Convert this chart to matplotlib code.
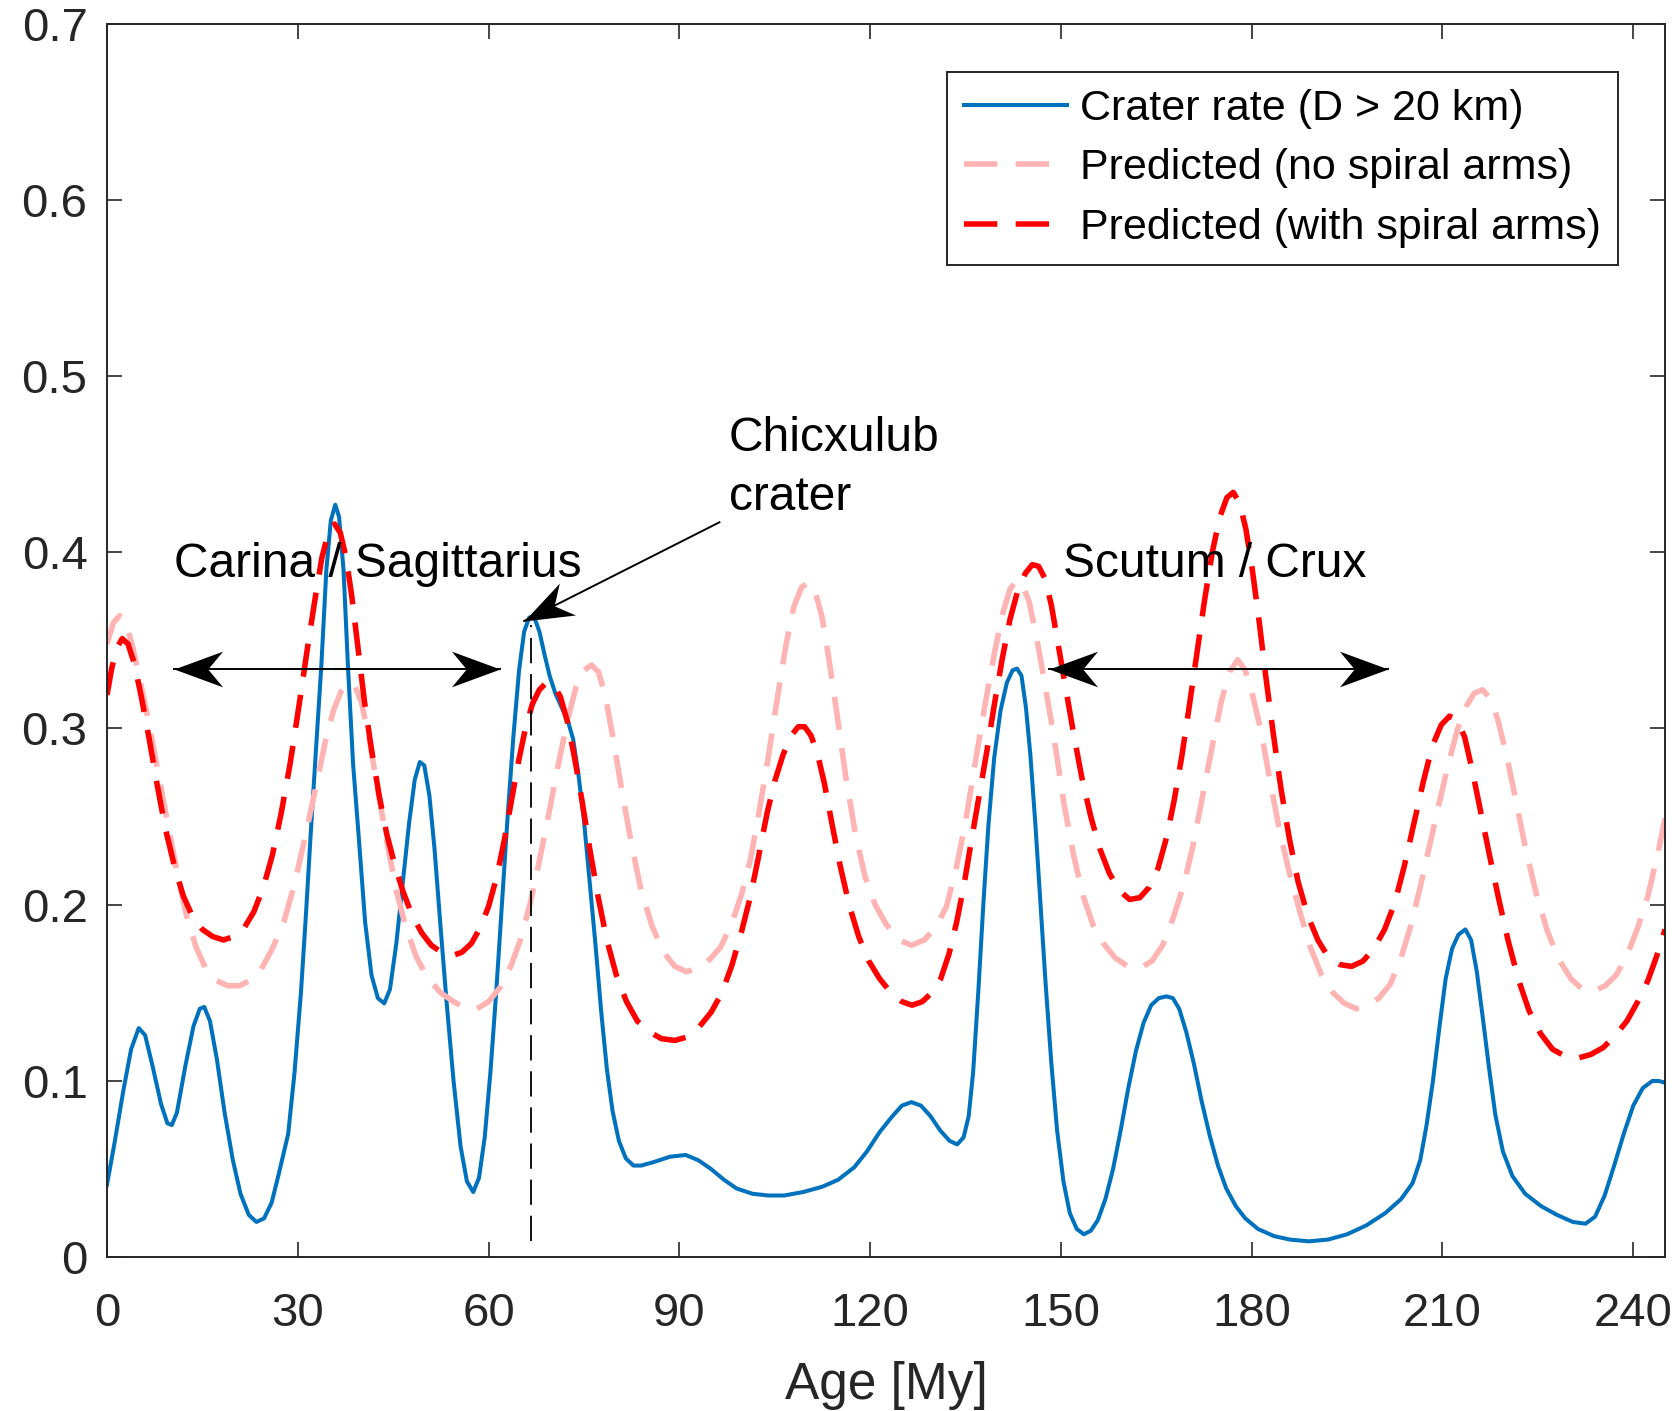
import numpy as np
import matplotlib.pyplot as plt
from matplotlib.path import Path
from matplotlib.markers import MarkerStyle
from matplotlib.transforms import Affine2D

# crater rate (D > 20 km)
crater_age = [0, 1.2, 2.6, 3.8, 5.0, 6.0, 7.2, 8.5, 9.5, 10.2, 11.0, 12.3, 13.6, 14.6, 15.3,
              16.2, 17.3, 18.5, 19.8, 21.0, 22.3, 23.5, 24.7, 25.9, 27.0, 28.5, 29.5, 30.5,
              31.3, 32.0, 32.9, 33.7, 34.5, 35.2, 35.9, 36.5, 37.2, 37.9, 38.7, 39.6, 40.6,
              41.6, 42.6, 43.6, 44.5, 45.5, 46.5, 47.5, 48.4, 49.2, 49.9, 50.7, 51.5, 52.4,
              53.4, 54.5, 55.6, 56.6, 57.6, 58.5, 59.4, 60.3, 61.2, 62.1, 63.0, 63.9, 64.8,
              65.6, 66.4, 67.2, 68.0, 68.8, 69.6, 70.5, 71.5, 72.5, 73.3, 74.1, 75.0, 75.9,
              76.8, 77.7, 78.6, 79.5, 80.5, 81.6, 82.8, 84.0, 86.0, 88.5, 91.0, 93.0, 95.0,
              97.0, 99.0, 101.5, 104.0, 106.5, 109.5, 112.5, 115.0, 117.5, 119.5, 121.5,
              123.5, 125.0, 126.5, 128.0, 129.5, 131.0, 132.5, 133.7, 134.7, 135.5, 136.2,
              137.0, 137.8, 138.6, 139.5, 140.5, 141.5, 142.4, 143.1, 143.8, 144.5, 145.2,
              146.0, 146.8, 147.6, 148.5, 149.4, 150.4, 151.4, 152.5, 153.6, 154.7, 155.8,
              157.0, 158.2, 159.4, 160.6, 161.8, 163.0, 164.2, 165.4, 166.6, 167.6, 168.6,
              169.7, 170.9, 172.1, 173.4, 174.7, 176.0, 177.5, 179.0, 181.0, 183.5, 186.0,
              189.0, 192.0, 195.0, 198.0, 201.0, 203.5, 205.3, 206.5, 207.5, 208.5, 209.5,
              210.5, 211.5, 212.5, 213.6, 214.5, 215.4, 216.3, 217.3, 218.3, 219.5, 221.0,
              223.0, 225.5, 228.0, 230.5, 232.5, 234.0, 235.5, 237.0, 238.5, 240.0, 241.5,
              243.0, 244.0, 245.0]
crater_rate = [0.041, 0.065, 0.095, 0.118, 0.130, 0.126, 0.108, 0.087, 0.076, 0.075, 0.082,
               0.108, 0.131, 0.141, 0.142, 0.134, 0.112, 0.082, 0.055, 0.036, 0.024, 0.020,
               0.022, 0.031, 0.047, 0.070, 0.105, 0.150, 0.195, 0.238, 0.290, 0.335, 0.390,
               0.418, 0.427, 0.420, 0.390, 0.335, 0.280, 0.238, 0.190, 0.160, 0.147, 0.144,
               0.152, 0.178, 0.212, 0.246, 0.271, 0.281, 0.279, 0.262, 0.232, 0.190, 0.145,
               0.100, 0.063, 0.043, 0.037, 0.045, 0.068, 0.105, 0.150, 0.200, 0.250, 0.295,
               0.333, 0.355, 0.363, 0.363, 0.355, 0.342, 0.330, 0.320, 0.312, 0.304, 0.294,
               0.275, 0.248, 0.213, 0.178, 0.140, 0.107, 0.083, 0.066, 0.056, 0.052, 0.052,
               0.054, 0.057, 0.058, 0.055, 0.050, 0.044, 0.039, 0.036, 0.035, 0.035, 0.037,
               0.040, 0.044, 0.051, 0.060, 0.071, 0.080, 0.086, 0.088, 0.086, 0.080, 0.072,
               0.066, 0.064, 0.068, 0.080, 0.105, 0.150, 0.200, 0.245, 0.283, 0.310, 0.326,
               0.333, 0.334, 0.330, 0.312, 0.285, 0.245, 0.200, 0.155, 0.110, 0.072, 0.043,
               0.025, 0.016, 0.013, 0.015, 0.021, 0.033, 0.050, 0.072, 0.096, 0.117, 0.133,
               0.143, 0.147, 0.148, 0.147, 0.141, 0.128, 0.110, 0.089, 0.069, 0.052, 0.039,
               0.029, 0.022, 0.016, 0.012, 0.010, 0.009, 0.010, 0.013, 0.018, 0.025, 0.033,
               0.042, 0.055, 0.075, 0.100, 0.130, 0.158, 0.175, 0.183, 0.186, 0.180, 0.162,
               0.137, 0.108, 0.081, 0.060, 0.046, 0.036, 0.029, 0.024, 0.020, 0.019, 0.023,
               0.035, 0.052, 0.070, 0.086, 0.096, 0.100, 0.100, 0.099]

# predicted rate, no spiral arms
nospiral_age = [0, 1.0, 2.0, 3.0, 4.0, 5.2, 6.5, 8.0, 9.5, 11.0, 12.5, 14.0, 15.5, 17.2, 19.0,
                20.8, 22.5, 24.2, 26.0, 27.8, 29.5, 31.2, 32.8, 34.3, 35.6, 36.8, 38.0, 39.0,
                40.0, 41.2, 42.5, 44.0, 45.5, 47.0, 48.7, 50.5, 52.5, 54.5, 56.5, 58.2, 60.0,
                61.8, 63.5, 65.0, 66.5, 68.0, 69.5, 71.0, 72.5, 73.8, 75.0, 76.2, 77.3, 78.4,
                79.6, 81.0, 82.5, 84.0, 85.7, 87.5, 89.3, 91.1, 93.0, 94.8, 96.5, 98.3, 99.8,
                101.2, 102.6, 104.0, 105.4, 106.8, 108.0, 109.2, 110.3, 111.4, 112.4, 113.5,
                114.8, 116.2, 117.7, 119.2, 120.8, 122.5, 124.5, 126.5, 128.5, 130.3, 132.0,
                133.5, 135.0, 136.5, 138.0, 139.5, 140.9, 142.0, 143.0, 144.0, 145.0, 146.2,
                147.5, 149.0, 150.5, 152.0, 153.5, 155.0, 156.7, 158.5, 160.5, 162.4, 164.3,
                166.0, 167.7, 169.3, 170.8, 172.3, 173.8, 175.2, 176.5, 177.8, 179.0, 180.2,
                181.5, 183.0, 184.5, 186.0, 187.5, 189.2, 191.0, 192.8, 194.6, 196.4, 198.2,
                200.0, 201.8, 203.5, 205.0, 206.5, 208.0, 209.5, 211.0, 212.4, 213.8, 215.0,
                216.3, 217.5, 218.7, 220.0, 221.5, 223.0, 224.7, 226.5, 228.3, 230.2, 232.0,
                233.8, 235.6, 237.3, 239.0, 240.7, 242.3, 243.8, 245.0]
nospiral_rate = [0.348, 0.360, 0.364, 0.360, 0.347, 0.327, 0.305, 0.276, 0.247, 0.219, 0.194,
                 0.176, 0.164, 0.157, 0.154, 0.154, 0.157, 0.163, 0.175, 0.190, 0.212, 0.239,
                 0.266, 0.292, 0.310, 0.321, 0.326, 0.324, 0.315, 0.295, 0.267, 0.236, 0.208,
                 0.187, 0.170, 0.158, 0.150, 0.145, 0.141, 0.141, 0.145, 0.153, 0.165, 0.180,
                 0.200, 0.225, 0.252, 0.280, 0.306, 0.324, 0.333, 0.336, 0.332, 0.318, 0.294,
                 0.264, 0.234, 0.208, 0.188, 0.173, 0.165, 0.162, 0.164, 0.169, 0.176, 0.190,
                 0.206, 0.226, 0.254, 0.284, 0.317, 0.348, 0.369, 0.380, 0.383, 0.377, 0.364,
                 0.340, 0.308, 0.272, 0.240, 0.216, 0.200, 0.189, 0.180, 0.177, 0.180, 0.187,
                 0.199, 0.220, 0.247, 0.280, 0.312, 0.342, 0.366, 0.379, 0.384, 0.381, 0.372,
                 0.351, 0.325, 0.293, 0.257, 0.228, 0.205, 0.189, 0.178, 0.170, 0.165, 0.164,
                 0.168, 0.177, 0.193, 0.211, 0.234, 0.262, 0.290, 0.315, 0.332, 0.339, 0.333,
                 0.318, 0.298, 0.268, 0.240, 0.217, 0.197, 0.176, 0.160, 0.150, 0.144, 0.141,
                 0.143, 0.147, 0.155, 0.170, 0.188, 0.210, 0.234, 0.258, 0.281, 0.300, 0.313,
                 0.320, 0.322, 0.317, 0.305, 0.286, 0.260, 0.233, 0.207, 0.185, 0.169, 0.158,
                 0.152, 0.151, 0.154, 0.160, 0.171, 0.187, 0.205, 0.228, 0.249]

# predicted rate, with spiral arms
spiral_age = [0, 0.8, 1.6, 2.4, 3.3, 4.3, 5.4, 6.6, 7.9, 9.2, 10.6, 12.0, 13.5, 15.0, 16.6,
              18.3, 20.0, 21.6, 23.1, 24.6, 26.0, 27.4, 28.8, 30.2, 31.5, 32.7, 33.8, 34.8,
              35.8, 36.7, 37.6, 38.5, 39.5, 40.5, 41.6, 42.8, 44.0, 45.3, 46.6, 48.0, 49.5,
              51.0, 52.6, 54.2, 55.8, 57.3, 58.7, 60.0, 61.3, 62.5, 63.6, 64.7, 65.8, 66.9,
              68.0, 69.1, 70.2, 71.3, 72.4, 73.5, 74.7, 75.9, 77.2, 78.6, 80.1, 81.7, 83.4,
              85.2, 87.2, 89.3, 91.3, 93.2, 95.0, 96.7, 98.3, 99.8, 101.2, 102.5, 103.8, 105.0,
              106.3, 107.6, 108.7, 109.7, 110.7, 111.7, 112.8, 114.0, 115.3, 116.7, 118.2,
              119.8, 121.5, 123.3, 125.0, 126.6, 128.2, 129.7, 131.1, 132.4, 133.6, 134.8,
              136.0, 137.2, 138.4, 139.6, 140.8, 142.0, 143.2, 144.4, 145.5, 146.5, 147.5,
              148.5, 149.6, 150.8, 152.0, 153.3, 154.7, 156.1, 157.6, 159.2, 160.8, 162.4,
              163.9, 165.3, 166.6, 167.8, 169.0, 170.2, 171.4, 172.6, 173.8, 175.0, 176.1,
              177.1, 178.1, 179.1, 180.1, 181.1, 182.2, 183.4, 184.6, 185.9, 187.3, 188.8,
              190.4, 192.1, 193.9, 195.7, 197.5, 199.2, 200.9, 202.5, 204.0, 205.5, 207.0,
              208.4, 209.8, 211.1, 212.3, 213.5, 214.7, 216.0, 217.4, 218.8, 220.3, 221.9,
              223.6, 225.4, 227.3, 229.3, 231.3, 233.3, 235.3, 237.2, 239.0, 240.7, 242.3,
              243.7, 245.0]
spiral_rate = [0.319, 0.335, 0.346, 0.351, 0.348, 0.337, 0.318, 0.295, 0.268, 0.243, 0.222,
               0.205, 0.193, 0.186, 0.182, 0.180, 0.182, 0.187, 0.196, 0.210, 0.228, 0.252,
               0.280, 0.313, 0.345, 0.373, 0.397, 0.411, 0.416, 0.411, 0.397, 0.375, 0.345,
               0.315, 0.288, 0.262, 0.240, 0.222, 0.207, 0.194, 0.184, 0.177, 0.173, 0.171,
               0.173, 0.178, 0.187, 0.199, 0.216, 0.237, 0.259, 0.281, 0.300, 0.314, 0.322,
               0.326, 0.325, 0.318, 0.304, 0.284, 0.259, 0.232, 0.205, 0.180, 0.160, 0.145,
               0.134, 0.128, 0.124, 0.123, 0.125, 0.131, 0.139, 0.150, 0.166, 0.185, 0.205,
               0.228, 0.252, 0.270, 0.285, 0.296, 0.301, 0.301, 0.296, 0.286, 0.269, 0.246,
               0.222, 0.200, 0.182, 0.168, 0.158, 0.150, 0.145, 0.143, 0.145, 0.150, 0.158,
               0.172, 0.190, 0.212, 0.238, 0.263, 0.288, 0.315, 0.340, 0.362, 0.378, 0.388,
               0.393, 0.392, 0.385, 0.370, 0.347, 0.322, 0.297, 0.272, 0.250, 0.232, 0.218,
               0.208, 0.203, 0.204, 0.210, 0.221, 0.238, 0.259, 0.284, 0.313, 0.343, 0.373,
               0.400, 0.420, 0.431, 0.434, 0.428, 0.413, 0.390, 0.363, 0.330, 0.297, 0.266,
               0.238, 0.213, 0.194, 0.180, 0.170, 0.166, 0.165, 0.168, 0.175, 0.186, 0.201,
               0.222, 0.246, 0.270, 0.290, 0.302, 0.307, 0.305, 0.295, 0.276, 0.253, 0.228,
               0.204, 0.180, 0.158, 0.140, 0.127, 0.118, 0.114, 0.113, 0.115, 0.119, 0.126,
               0.134, 0.145, 0.157, 0.171, 0.186]

chicxulub_age = 66.7
x_ticks = [0, 30, 60, 90, 120, 150, 180, 210, 240]
y_ticks = [0, 0.1, 0.2, 0.3, 0.4, 0.5, 0.6, 0.7]
y_ticklabels = ['0', '0.1', '0.2', '0.3', '0.4', '0.5', '0.6', '0.7']

plt.rcParams['font.family'] = ['Liberation Sans', 'DejaVu Sans']
axis_col = '#262626'

# swept-back arrow head, tip at the origin pointing along +x
HEAD = Path([(0, 0), (-49, 18), (-34, 0), (-49, -18), (0, 0)],
            [Path.MOVETO, Path.LINETO, Path.LINETO, Path.LINETO, Path.CLOSEPOLY])


def draw_arrow(ax, tail, tip, both=False):
    ax.plot([tail[0], tip[0]], [tail[1], tip[1]], color='k', lw=1.4)
    ends = [(tail, tip), (tip, tail)] if both else [(tail, tip)]
    for a, b in ends:
        pa, pb = ax.transData.transform([a, b])
        ang = np.degrees(np.arctan2(pb[1] - pa[1], pb[0] - pa[0]))
        m = MarkerStyle(HEAD, transform=Affine2D().rotate_deg(ang))
        ax.plot(b[0], b[1], marker=m, ms=70, color='k', mew=0, clip_on=False)


fig = plt.figure(figsize=(16.79, 14.11), dpi=100)
ax = fig.add_axes([0.0637, 0.109, 0.928, 0.8743])
ax.set_xlim(0, 245)
ax.set_ylim(0, 0.7)

ax.plot(crater_age, crater_rate, color='#0072BD', lw=2.9, solid_joinstyle='round',
        label='Crater rate (D > 20 km)')
ax.plot(nospiral_age, nospiral_rate, color='#FFB3B3', lw=4.0, dashes=(6, 3.3),
        label='Predicted (no spiral arms)')
ax.plot(spiral_age, spiral_rate, color='#FF0000', lw=4.0, dashes=(6, 3.3),
        label='Predicted (with spiral arms)')

# Chicxulub impact age
ax.plot([chicxulub_age, chicxulub_age], [0.009, 0.359], color='k', lw=1.3, dashes=(14, 6))

draw_arrow(ax, (10.6, 0.334), (61.8, 0.334), both=True)
draw_arrow(ax, (148.1, 0.334), (201.4, 0.334), both=True)
draw_arrow(ax, (96.3, 0.417), (65.6, 0.361))

ax.text(10.6, 0.393, 'Carina / Sagittarius', fontsize=34.5, ha='left', va='center')
ax.text(150.3, 0.393, 'Scutum / Crux', fontsize=34.5, ha='left', va='center')
ax.text(97.8, 0.448, 'Chicxulub\ncrater', fontsize=34.5, ha='left', va='center',
        linespacing=1.4)

ax.set_xticks(x_ticks)
ax.set_yticks(y_ticks)
ax.set_yticklabels(y_ticklabels)
ax.tick_params(direction='in', length=11, width=1.2, top=True, right=True,
               labelsize=34, colors=axis_col, pad=14)
ax.tick_params(axis='x', pad=25)
for s in ax.spines.values():
    s.set_color(axis_col)
    s.set_linewidth(1.4)
ax.set_xlabel('Age [My]', fontsize=37, color=axis_col, labelpad=18)

leg = ax.legend(handles=ax.get_lines()[:3], loc='upper right',
                bbox_to_anchor=(0.970, 0.961), fontsize=31,
                handlelength=2.4, handletextpad=0.3, labelspacing=0.45,
                borderpad=0.4, borderaxespad=0, fancybox=False, framealpha=1)
leg.get_frame().set_edgecolor(axis_col)
leg.get_frame().set_linewidth(1.4)

fig.savefig('out.png', dpi=100)
